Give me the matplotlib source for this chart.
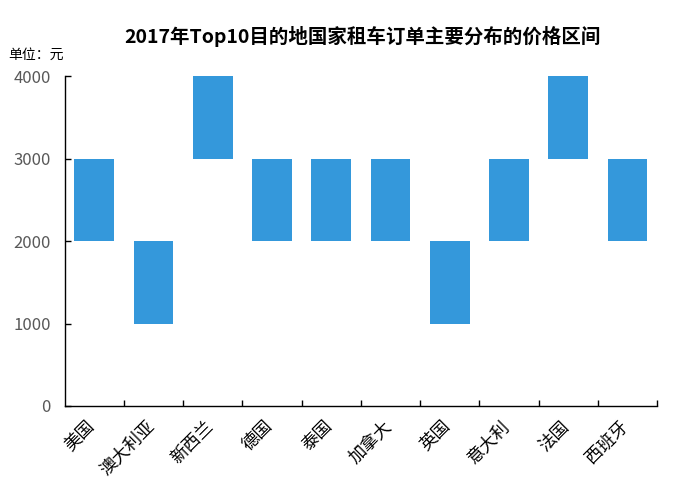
import matplotlib
matplotlib.use('Agg')
import matplotlib.pyplot as plt
import matplotlib.transforms as mtrans
import numpy as np

plt.rcParams['font.family'] = ['Noto Sans CJK SC', 'DejaVu Sans']

countries = ['美国', '澳大利亚', '新西兰', '德国', '泰国', '加拿大', '英国', '意大利', '法国', '西班牙']
low = [2000, 1000, 3000, 2000, 2000, 2000, 1000, 2000, 3000, 2000]
high = [3000, 2000, 4000, 3000, 3000, 3000, 2000, 3000, 4000, 3000]
yticks = [0, 1000, 2000, 3000, 4000]

fig = plt.figure(figsize=(6.77, 4.92), dpi=100)
ax = fig.add_axes([0.0955, 0.1748, 0.875, 0.6707])

x = np.arange(len(countries))
ax.bar(x, np.array(high) - np.array(low), bottom=low, width=0.67, color='#3498DB')

ax.set_xlim(-0.5, len(countries) - 0.5)
ax.set_ylim(0, 4000)
ax.set_yticks(yticks)
ax.tick_params(axis='y', direction='in', length=4, width=1, labelsize=12, labelcolor='#595959', pad=10)

ax.set_xticks(x)
ax.set_xticklabels(countries, rotation=45, ha='right', rotation_mode='anchor', fontsize=12.5)
ax.tick_params(axis='x', length=0, pad=8)
shift = mtrans.ScaledTranslation(-6 / 72, 0, fig.dpi_scale_trans)
for lab in ax.get_xticklabels():
    lab.set_transform(lab.get_transform() + shift)
ax.set_xticks(np.arange(len(countries)) + 0.5, minor=True)
ax.tick_params(axis='x', which='minor', direction='in', length=4, width=1)

for s in ['top', 'right']:
    ax.spines[s].set_visible(False)
for s in ['left', 'bottom']:
    ax.spines[s].set_linewidth(1)
    ax.spines[s].set_color('black')

fig.text(0.535, 0.925, '2017年Top10目的地国家租车订单主要分布的价格区间',
         ha='center', va='center', fontsize=14, fontweight='bold')
fig.text(0.012, 0.888, '单位：元', ha='left', va='center', fontsize=10)

fig.savefig('out.png', dpi=100)
